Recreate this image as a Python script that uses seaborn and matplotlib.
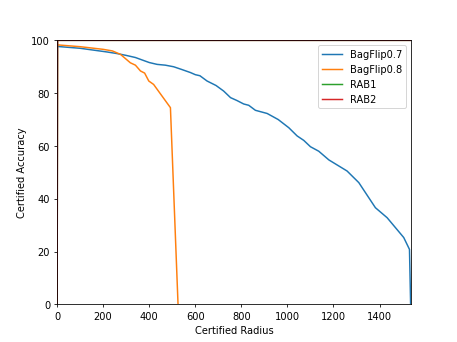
import matplotlib
matplotlib.use("Agg")
import matplotlib.pyplot as plt
import seaborn as sns
import pandas as pd

# BagFlip0.7 curve (radius, accuracy)
bag07_radius = [0, 100, 217, 260, 300, 340, 362, 400, 434, 470, 506, 540, 579, 600,
                620, 651, 690, 723, 753, 781, 810, 832, 861, 912, 960, 1006, 1042,
                1071, 1100, 1136, 1180, 1259, 1310, 1382, 1433, 1505, 1530, 1535]
bag07_acc = [97.7, 97.0, 95.6, 95.0, 94.3, 93.5, 92.8, 91.6, 90.9, 90.6, 90.0, 89.0,
             87.8, 87.0, 86.6, 84.6, 82.9, 80.8, 78.3, 77.2, 75.9, 75.4, 73.5, 72.3,
             70.0, 66.9, 63.8, 62.1, 59.7, 58.0, 54.7, 50.5, 46.1, 36.6, 32.8, 25.3,
             20.8, 0.0]

# BagFlip0.8 curve
bag08_radius = [0, 100, 200, 240, 275, 318, 340, 362, 380, 398, 419, 492, 525]
bag08_acc = [98.3, 97.6, 96.6, 96.0, 94.7, 91.5, 90.6, 88.4, 87.6, 84.6, 83.3, 74.5, 0.0]

# RAB1 / RAB2 sit at 100 over the whole range
rab_radius = [0, 2, 1540]
rab1_acc = [0, 100, 100]
rab2_acc = [0, 100, 100]

series = [
    ("BagFlip0.7", bag07_radius, bag07_acc),
    ("BagFlip0.8", bag08_radius, bag08_acc),
    ("RAB1", rab_radius, rab1_acc),
    ("RAB2", rab_radius, rab2_acc),
]

fig = plt.figure(figsize=(6.4, 4.8), dpi=71.41)
ax = fig.add_subplot(111)

for i, (name, xs, ys) in enumerate(series):
    df = pd.DataFrame({"radius": xs, "acc": ys})
    sns.lineplot(data=df, x="radius", y="acc", ax=ax, label=name,
                 color="C%d" % i, estimator=None, sort=False, linewidth=1.5)

ax.set_xlim(0, 1538)
ax.set_ylim(0, 100)
ax.set_xlabel("Certified Radius")
ax.set_ylabel("Certified Accuracy")
ax.legend(loc="upper right")

fig.savefig("out.png", dpi=71.41)
